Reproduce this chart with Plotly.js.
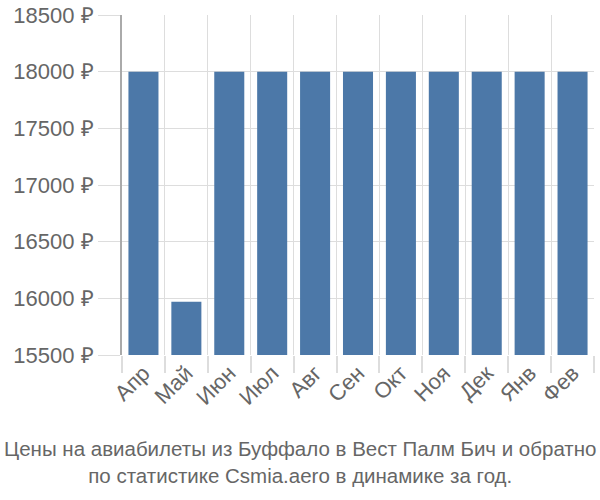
<!DOCTYPE html>
<html><head><meta charset="utf-8">
<script src="https://cdn.plot.ly/plotly-3.0.1.min.js"></script>
<style>html,body{margin:0;padding:0;background:#fff}</style>
</head><body>
<div id="chart" style="width:600px;height:500px"></div>
<script>
const months = ["Апр","Май","Июн","Июл","Авг","Сен","Окт","Ноя","Дек","Янв","Фев"];
const prices = [18000,15970,18000,18000,18000,18000,18000,18000,18000,18000,18000];
const yTicks = [15500,16000,16500,17000,17500,18000,18500];
const yTickText = yTicks.map(v => v + " ₽");
const titleLines = ["Цены на авиабилеты из Буффало в Вест Палм Бич и обратно","по статистике Csmia.aero в динамике за год."];

const fam = "Liberation Sans, Arial, sans-serif";
Plotly.newPlot("chart", [{
  type: "bar", x: months, y: prices,
  marker: {color: "#4c78a8"}, hoverinfo: "none"
}], {
  width: 600, height: 500,
  margin: {l: 122, r: 6, t: 15, b: 145},
  paper_bgcolor: "#fff", plot_bgcolor: "#fff",
  bargap: 0.3,
  font: {family: fam, color: "#666"},
  xaxis: {
    type: "category", tickson: "boundaries", showgrid: true, gridcolor: "#ddd", gridwidth: 1,
    ticks: "outside", ticklen: 17, tickcolor: "#ddd", tickwidth: 2,
    tickangle: -45, tickfont: {size: 22, color: "#666", family: fam},
    showline: false, zeroline: false
  },
  yaxis: {
    range: [15500, 18500], tickvals: yTicks, ticktext: yTickText,
    showgrid: true, gridcolor: "#ddd", gridwidth: 1,
    ticks: "outside", ticklen: 22, tickcolor: "#ddd",
    tickfont: {size: 22, color: "#666", family: fam},
    showline: true, linecolor: "#aaa", linewidth: 2, zeroline: false
  },
  annotations: [{
    xref: "paper", yref: "paper", x: 0.5, xanchor: "center", y: 0, yanchor: "top", yshift: -80,
    text: titleLines.join("<br>"), showarrow: false,
    font: {size: 20.5, color: "#666", family: fam}, align: "center", xshift: -58
  }]
}, {displayModeBar: false, staticPlot: true});
</script>
</body></html>
